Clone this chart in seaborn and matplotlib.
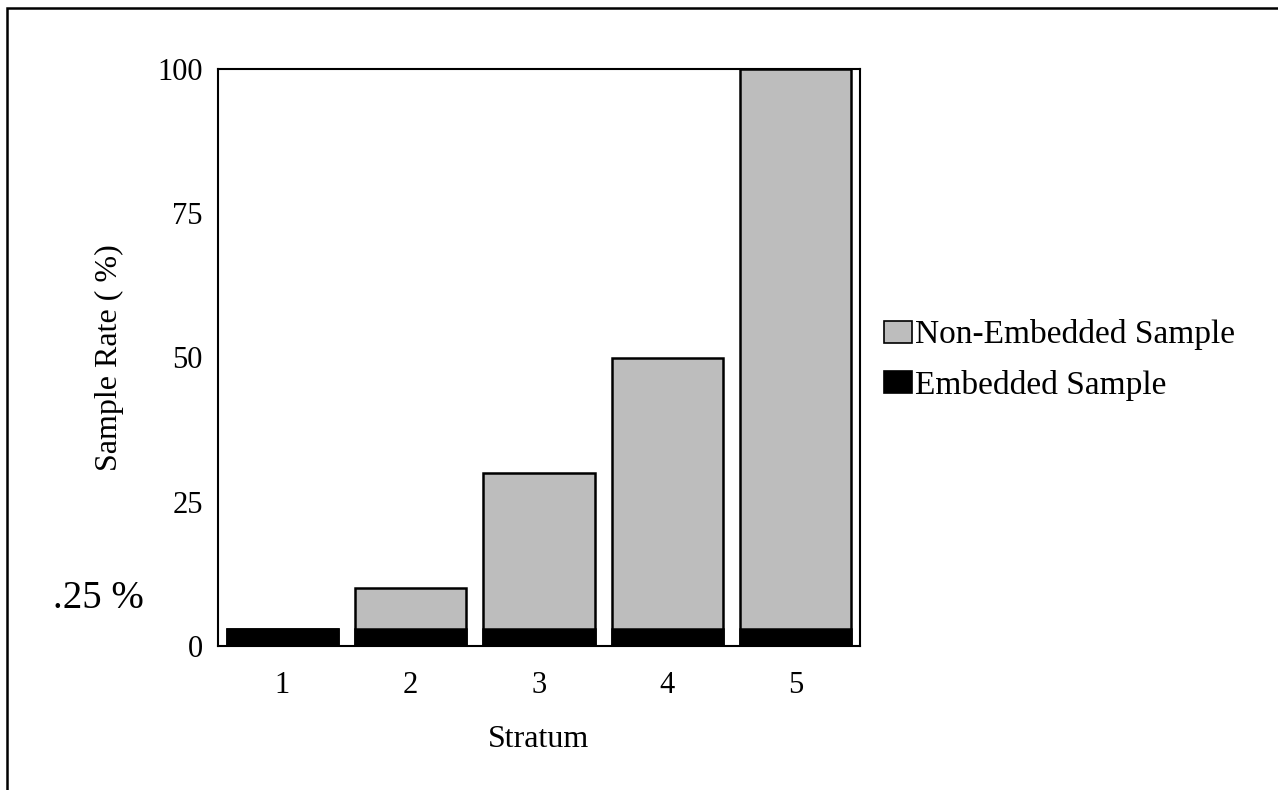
import pandas as pd
import seaborn as sns
import matplotlib.pyplot as plt
from matplotlib.patches import Patch, Rectangle

strata = ["1", "2", "3", "4", "5"]
total_rate = [3, 10, 30, 50, 100]
embedded_rate = [3, 3, 3, 3, 3]
y_ticks = [0, 25, 50, 75, 100]

sns.set_theme(style="white")
plt.rcParams["font.family"] = ["Liberation Serif", "DejaVu Serif"]
plt.rcParams["text.color"] = "black"

df = pd.DataFrame({"stratum": strata, "total": total_rate, "embedded": embedded_rate})

fig = plt.figure(figsize=(12.78, 7.9), dpi=100)
ax = fig.add_axes([218 / 1278, 1 - 646 / 790, (860 - 218) / 1278, (646 - 69) / 790])

gray = "#bdbdbd"
sns.barplot(data=df, x="stratum", y="total", color=gray, width=0.865,
            edgecolor="black", linewidth=1.8, saturation=1, ax=ax)
sns.barplot(data=df, x="stratum", y="embedded", color="black", width=0.865,
            edgecolor="black", linewidth=1.8, saturation=1, ax=ax)

ax.set_xlim(-0.5, 4.5)
ax.set_ylim(0, 100)
ax.set_yticks(y_ticks)
ax.tick_params(axis="both", length=0, labelsize=22, colors="black")
ax.tick_params(axis="x", pad=18)
ax.tick_params(axis="y", pad=11)
ax.set_xlabel("Stratum", fontsize=23, labelpad=18, color="black")
ax.set_ylabel("Sample Rate ( %)", fontsize=23, labelpad=24, color="black")
for s in ax.spines.values():
    s.set_visible(True)
    s.set_color("black")
    s.set_linewidth(1.5)

handles = [Patch(facecolor=gray, edgecolor="black", linewidth=1.2),
           Patch(facecolor="black", edgecolor="black", linewidth=1.2)]
leg = fig.legend(handles, ["Non-Embedded Sample", "Embedded Sample"],
                 loc="center left", bbox_to_anchor=(884 / 1278, 1 - 360 / 790),
                 frameon=False, fontsize=24, handlelength=0.84, handleheight=0.63,
                 handletextpad=0.08, labelspacing=0.58, borderpad=0, borderaxespad=0)
for t in leg.get_texts():
    t.set_color("black")

fig.text(53 / 1278, 1 - 598 / 790, ".25 %", fontsize=28, va="center", ha="left",
         color="black")

# page frame from the scan
fig.patches.append(Rectangle((7 / 1278, -0.05), 1.1, 1 - 8 / 790 + 0.05,
                             transform=fig.transFigure, fill=False,
                             edgecolor="black", linewidth=1.8))

fig.savefig("out.png", dpi=100, facecolor="white")
